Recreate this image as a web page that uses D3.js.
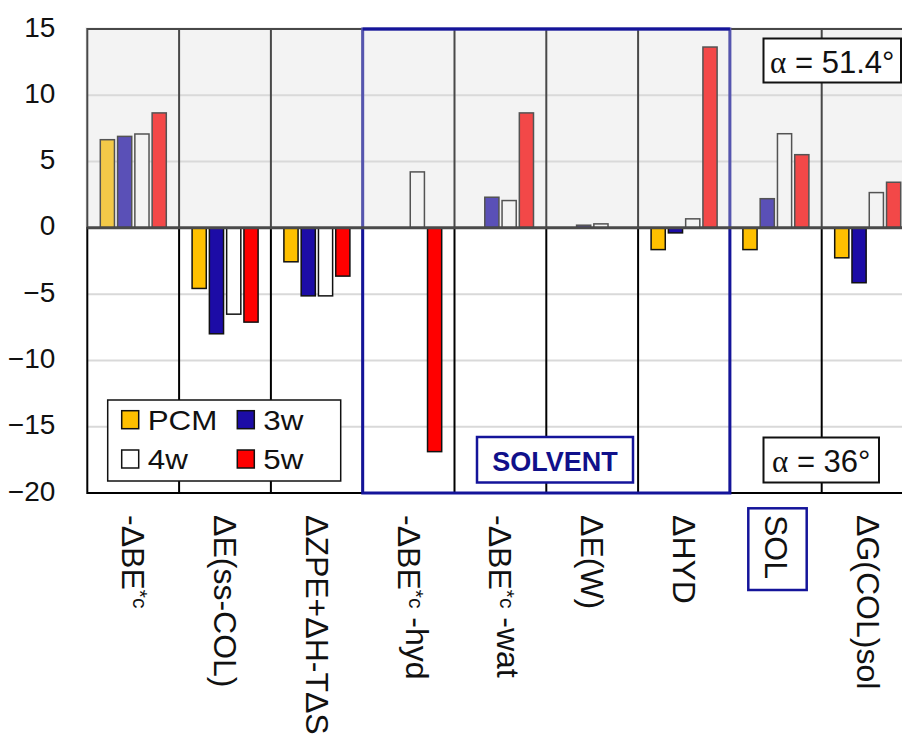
<!DOCTYPE html>
<html>
<head>
<meta charset="utf-8">
<script src="https://cdn.jsdelivr.net/npm/d3@7"></script>
<style>
	body { margin: 0; background: #fff; }
	svg { display: block; font-family: "Liberation Sans", Arial, sans-serif; }
</style>
</head>
<body>
<div id="chart-area"></div>
<script>
// data
var categories = ["-ΔBE*c", "ΔE(ss-COL)", "ΔZPE+ΔH-TΔS", "-ΔBE*c-hyd", "-ΔBE*c-wat", "ΔE(W)", "ΔHYD", "SOL", "ΔG(COL)sol"];
var seriesNames = ["PCM", "3w", "4w", "5w"];
var pcm = [6.65, -4.57, -2.56, 0, 0, 0, -1.64, -1.64, -2.26];
var w3 = [6.9, -7.99, -5.13, 0, 2.31, 0.2, -0.38, 2.2, -4.14];
var w4 = [7.08, -6.51, -5.13, 4.22, 2.06, 0.3, 0.68, 7.1, 2.66];
var w5 = [8.67, -7.11, -3.64, -16.88, 8.67, 0, 13.64, 5.52, 3.44];
var yTicks = [-20, -15, -10, -5, 0, 5, 10, 15];

// label pieces: [text, superscript?]
var labelParts = [
	[["-ΔBE", false], ["*c", true]],
	[["ΔE(ss-COL)", false]],
	[["ΔZPE+ΔH-TΔS", false]],
	[["-ΔBE", false], ["*c", true], [" -hyd", false]],
	[["-ΔBE", false], ["*c", true], [" -wat", false]],
	[["ΔE(W)", false]],
	[["ΔHYD", false]],
	[["SOL", false]],
	[["ΔG(COL)sol", false]]
];

var series = [pcm, w3, w4, w5];
var table = [];
categories.forEach((c, i) => {
	series.forEach((s, j) => {
		if (s[i] !== 0) table.push({ cat: c, name: seriesNames[j], value: s[i] });
	});
});

var width = 902;
var height = 743;

var svg = d3.select("#chart-area").append("svg")
	.attr("width", width)
	.attr("height", height);

var plotLeft = 87.3, plotTop = 29, plotBottom = 493;

// Scales
var x0 = d3.scaleBand()
	.domain(categories)
	.range([plotLeft, plotLeft + 9 * 91.8]);

var x1 = d3.scaleBand()
	.domain(seriesNames)
	.range([13, 79])
	.paddingInner(0.18);

var y = d3.scaleLinear()
	.domain([-20, 15])
	.range([plotBottom, plotTop]);

var color = d3.scaleOrdinal()
	.domain(seriesNames)
	.range(["#ffc000", "#1c0ca6", "#ffffff", "#ff0000"]);

var plotRight = x0.range()[1];

// gridlines
svg.append("g").selectAll("line")
	.data(yTicks.filter((d) => d !== 0 && d !== -20 && d !== 15))
	.enter().append("line")
	.attr("x1", plotLeft).attr("x2", plotRight)
	.attr("y1", (d) => y(d)).attr("y2", (d) => y(d))
	.attr("stroke", "#d9d9d9")
	.attr("stroke-width", 2);

// bars
svg.append("g").selectAll("rect")
	.data(table)
	.enter().append("rect")
	.attr("x", (d) => x0(d.cat) + x1(d.name))
	.attr("width", x1.bandwidth())
	.attr("y", (d) => y(Math.max(0, d.value)))
	.attr("height", (d) => Math.abs(y(d.value) - y(0)))
	.attr("fill", (d) => color(d.name))
	.attr("stroke", "#111")
	.attr("stroke-width", 1.5);

// category dividers
svg.append("g").selectAll("line")
	.data(categories.slice(1))
	.enter().append("line")
	.attr("x1", (d) => x0(d)).attr("x2", (d) => x0(d))
	.attr("y1", plotTop).attr("y2", plotBottom)
	.attr("stroke", "#000")
	.attr("stroke-width", 2);

// plot border
svg.append("rect")
	.attr("x", plotLeft).attr("y", plotTop)
	.attr("width", plotRight - plotLeft).attr("height", plotBottom - plotTop)
	.attr("fill", "none")
	.attr("stroke", "#000")
	.attr("stroke-width", 2);

// solvent box
var sx0 = x0("-ΔBE*c-hyd"), sx1 = x0("SOL");
svg.append("rect")
	.attr("x", sx0).attr("y", plotTop)
	.attr("width", sx1 - sx0).attr("height", plotBottom - plotTop)
	.attr("fill", "none")
	.attr("stroke", "#14149a")
	.attr("stroke-width", 3);

// upper panel wash (alpha = 51.4 panel)
svg.append("rect")
	.attr("x", plotLeft - 2).attr("y", plotTop - 2)
	.attr("width", plotRight - plotLeft + 4).attr("height", y(0) - plotTop + 1)
	.attr("fill", "#dcdcdc")
	.attr("opacity", 0.33);

svg.append("line")
	.attr("x1", sx0).attr("x2", sx1)
	.attr("y1", plotTop).attr("y2", plotTop)
	.attr("stroke", "#14149a")
	.attr("stroke-width", 3);

// zero line
svg.append("line")
	.attr("x1", plotLeft).attr("x2", plotRight)
	.attr("y1", y(0)).attr("y2", y(0))
	.attr("stroke", "#4a4a4a")
	.attr("stroke-width", 3);

// y axis
var yAxisGroup = svg.append("g")
	.attr("transform", "translate(" + plotLeft + ", 0)")
	.call(d3.axisLeft(y).tickValues(yTicks).tickSize(0).tickPadding(32));
yAxisGroup.select(".domain").remove();
yAxisGroup.selectAll("text")
	.attr("dy", "0.25em")
	.style("font-size", "28px")
	.style("font-family", "'Liberation Sans', Arial, sans-serif")
	.attr("fill", "#111");

// x labels
labelParts.forEach((parts, i) => {
	var cx = x0(categories[i]) + x0.bandwidth() / 2;
	var t = svg.append("text")
		.attr("transform", "translate(" + cx + ", 515) rotate(90)")
		.attr("dominant-baseline", "central")
		.style("font-size", "32px")
		.attr("fill", "#111");
	parts.forEach((p) => {
		if (p[1]) {
			t.append("tspan").attr("dy", -8).style("font-size", "21px").text(p[0]);
			t.append("tspan").attr("dy", 8).text("");
		} else {
			t.append("tspan").text(p[0]);
		}
	});
});

// SOL label box
svg.append("rect")
	.attr("x", 748.3).attr("y", 508.3)
	.attr("width", 58.4).attr("height", 81.7)
	.attr("fill", "none")
	.attr("stroke", "#14149a")
	.attr("stroke-width", 2.5);

// SOLVENT box
svg.append("rect")
	.attr("x", 477).attr("y", 437)
	.attr("width", 156).attr("height", 45.5)
	.attr("fill", "#fff")
	.attr("stroke", "#14149a")
	.attr("stroke-width", 2.5);
svg.append("text")
	.attr("x", 555).attr("y", 470.5)
	.attr("text-anchor", "middle")
	.style("font-size", "27px")
	.style("font-weight", "bold")
	.attr("fill", "#10108a")
	.text("SOLVENT");

// alpha boxes
function alphaBox(x, yy, w, h, txt, baseline) {
	svg.append("rect")
		.attr("x", x).attr("y", yy)
		.attr("width", w).attr("height", h)
		.attr("fill", "#fff")
		.attr("stroke", "#111")
		.attr("stroke-width", 2);
	var t = svg.append("text")
		.attr("x", x + w / 2).attr("y", baseline)
		.attr("text-anchor", "middle")
		.style("font-size", "31px")
		.attr("fill", "#111");
	t.append("tspan").style("font-family", "'Liberation Serif', 'Times New Roman', serif").text("α");
	t.append("tspan").text(" = " + txt);
}
alphaBox(763.5, 38.5, 137.5, 44, "51.4°", 72.5);
alphaBox(763.5, 437.5, 115.5, 45, "36°", 471.5);

// legend
var legend = svg.append("g");
legend.append("rect")
	.attr("x", 107.7).attr("y", 400)
	.attr("width", 233).attr("height", 81)
	.attr("fill", "#fff")
	.attr("stroke", "#111")
	.attr("stroke-width", 1.5);

seriesNames.forEach((name, i) => {
	var row = legend.append("g")
		.attr("transform", "translate(" + (121.7 + (i % 2) * 115.6) + ", " + (410.7 + Math.floor(i / 2) * 39.3) + ")");
	row.append("rect")
		.attr("width", 17).attr("height", 18)
		.attr("fill", color(name))
		.attr("stroke", "#111")
		.attr("stroke-width", 1.5);
	row.append("text")
		.attr("transform", "translate(26, 19) scale(1.12, 1)")
		.style("font-size", "28px")
		.attr("fill", "#111")
		.text(name);
});
</script>
</body>
</html>
